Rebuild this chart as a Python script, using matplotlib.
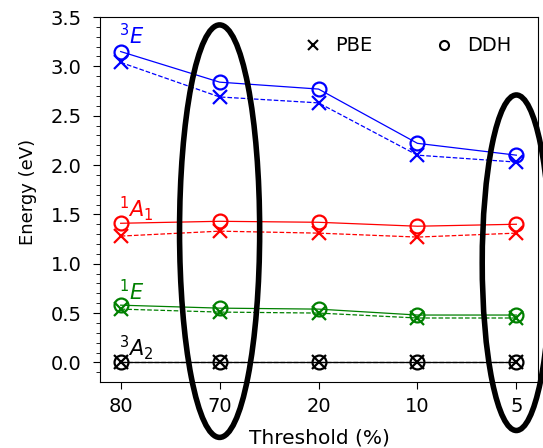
#import packages
import matplotlib.pyplot as plt
import numpy as np
from matplotlib.lines import Line2D
from matplotlib.patches import Ellipse


#data
thresholds = ["80", "70", "20", "10", "5"]
e3_ddh = [3.15, 2.84, 2.77, 2.22, 2.10]
e3_pbe = [3.04, 2.69, 2.63, 2.10, 2.03]
a1_ddh = [1.41, 1.43, 1.42, 1.38, 1.40]
a1_pbe = [1.28, 1.33, 1.31, 1.27, 1.31]
e1_ddh = [0.58, 0.55, 0.54, 0.48, 0.48]
e1_pbe = [0.54, 0.51, 0.50, 0.45, 0.45]
a2_ddh = [0.0, 0.0, 0.0, 0.0, 0.0]
a2_pbe = [0.0, 0.0, 0.0, 0.0, 0.0]

x = np.arange(len(thresholds))

#create figure
fig, ax = plt.subplots(figsize=(5.43, 4.48), dpi=100)
fig.subplots_adjust(left=0.184, right=0.991, top=0.962, bottom=0.147)

#plot every state, DDH solid with circles, PBE dashed with crosses
states = [(e3_ddh, e3_pbe, "blue"), (a1_ddh, a1_pbe, "red"),
          (e1_ddh, e1_pbe, "green"), (a2_ddh, a2_pbe, "black")]
for ddh, pbe, c in states:
    ax.plot(x, ddh, color=c, lw=0.9, marker="o", ms=10, mfc="none", mew=1.6)
    ax.plot(x, pbe, color=c, lw=0.9, ls="--", marker="x", ms=10, mew=1.6)

#state labels
ax.text(-0.02, 3.22, "$^3E$", color="blue", fontsize=15)
ax.text(-0.02, 1.48, "$^1A_1$", color="red", fontsize=15)
ax.text(-0.02, 0.63, "$^1E$", color="green", fontsize=15)
ax.text(-0.02, 0.07, "$^3A_2$", color="black", fontsize=15)

#highlight ellipses
for cx, cy, w, h in [(1, 1.33, 0.81, 4.18), (4, 1.01, 0.69, 3.40)]:
    ax.add_patch(Ellipse((cx, cy), w, h, fill=False, ec="black", lw=4, clip_on=False, zorder=5))

#legend
handles = [Line2D([], [], color="black", ls="none", marker="x", ms=6.5, mew=1.5),
           Line2D([], [], color="black", ls="none", marker="o", ms=6.5, mfc="none", mew=1.5)]
ax.legend(handles, ["PBE", "DDH"], ncol=2, frameon=False, fontsize=14,
          loc="upper right", bbox_to_anchor=(0.978, 0.995), columnspacing=3.1,
          handlelength=1.2, handletextpad=0.55)

#axes setup
ax.set_xlim(-0.21, 4.22)
ax.set_ylim(-0.2, 3.5)
ax.set_xticks(x)
ax.set_xticklabels(thresholds)
ax.set_yticks(np.arange(0, 3.51, 0.5))
ax.set_yticks(np.arange(-0.1, 3.5, 0.1), minor=True)
ax.tick_params(labelsize=14, length=5, pad=6)
ax.tick_params(axis="y", pad=8)
ax.tick_params(which="minor", length=3)
ax.set_ylabel("Energy (eV)", fontsize=13)
ax.yaxis.set_label_coords(-0.144, 0.52)
ax.set_xlabel("Threshold (%)", fontsize=14.5, labelpad=8.5)

fig.savefig("out.png", dpi=100)
